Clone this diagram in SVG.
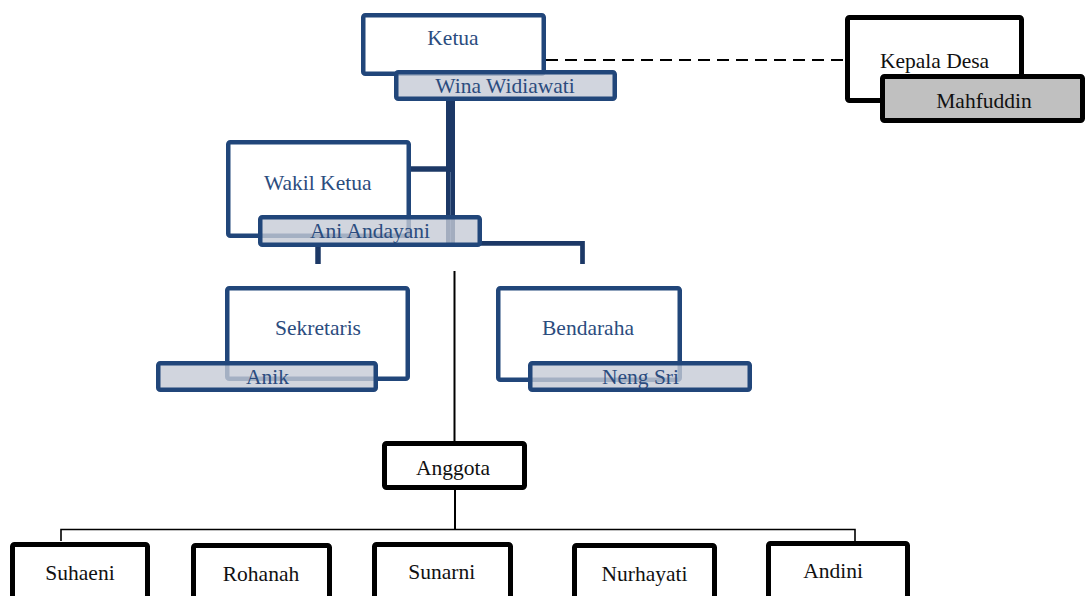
<svg xmlns="http://www.w3.org/2000/svg" width="1085" height="596" viewBox="0 0 1085 596">
<style>
  text { font-family: "Liberation Serif", "Times New Roman", serif; font-size: 21.5px; text-anchor: middle; }
  .bt { fill: #2b4c7e; }
  .kt { fill: #111111; }
  .title { fill: #ffffff; stroke: #21467a; stroke-width: 4.5; }
  .name { fill: #c6cad6; fill-opacity: 0.8; stroke: #21467a; stroke-width: 4.5; }
  .kbox { fill: #ffffff; stroke: #000000; stroke-width: 5; }
  .kname { fill: #c0c0c0; stroke: #000000; stroke-width: 5; }
  .nav { fill: none; stroke: #1c3866; stroke-linejoin: miter; }
  .thin { fill: none; stroke: #000000; }
</style>
<defs>
  <clipPath id="clipAnggota"><rect x="387" y="446" width="135" height="39"/></clipPath>
</defs>

<g id="connectors">
  <path d="M546 60 H845" fill="none" stroke="#000" stroke-width="2" stroke-dasharray="12 7"/>
  <rect x="446" y="100" width="9" height="143" fill="#1c3866"/>
  <line x1="450.5" y1="172" x2="450.5" y2="243" stroke="#5a7399" stroke-width="0.8"/>
  <path class="nav" d="M410 169 H447" stroke-width="5.5"/>
  <path class="nav" d="M480 243.3 H582.5 V264" stroke-width="4.7"/>
  <path class="nav" d="M318 246 V264" stroke-width="5.5"/>
  <path class="thin" d="M454.5 271 V441" stroke-width="2"/>
  <path class="thin" d="M455 490 V529.5" stroke-width="2"/>
  <path class="thin" d="M61 541 V529.5 H855 V541" stroke-width="1.6"/>
</g>

<g id="ketua">
  <rect class="title" x="363.25" y="15.25" width="180.5" height="58.5" rx="2"/>
  <text class="bt" x="453" y="45">Ketua</text>
</g>
<g id="ketua-name">
  <rect class="name" x="396.25" y="72.25" width="218.5" height="26.5" rx="2"/>
  <text class="bt" x="505" y="93">Wina Widiawati</text>
</g>

<g id="kepala-desa">
  <rect class="kbox" x="847.5" y="17.5" width="174" height="83" rx="2"/>
  <text class="kt" x="934.5" y="68">Kepala Desa</text>
</g>
<g id="kepala-desa-name">
  <rect class="kname" x="882.5" y="76.5" width="200" height="44" rx="2"/>
  <text class="kt" x="984" y="108">Mahfuddin</text>
</g>

<g id="wakil-ketua">
  <rect class="title" x="228.25" y="142.25" width="180.5" height="93.5" rx="2"/>
  <text class="bt" x="317.7" y="190">Wakil Ketua</text>
</g>
<g id="wakil-ketua-name">
  <rect class="name" x="260.25" y="217.25" width="219.5" height="27.5" rx="2"/>
  <text class="bt" x="370" y="237.5">Ani Andayani</text>
</g>

<g id="sekretaris">
  <rect class="title" x="227.25" y="288.25" width="180.5" height="90.5" rx="2"/>
  <text class="bt" x="318" y="335">Sekretaris</text>
</g>
<g id="sekretaris-name">
  <rect class="name" x="158.25" y="363.25" width="217.5" height="26.5" rx="2"/>
  <text class="bt" x="267.5" y="383.5">Anik</text>
</g>

<g id="bendahara">
  <rect class="title" x="498.25" y="288.25" width="181.5" height="91.5" rx="2"/>
  <text class="bt" x="588" y="335">Bendaraha</text>
</g>
<g id="bendahara-name">
  <rect class="name" x="530.25" y="363.25" width="219.5" height="26.5" rx="2"/>
  <text class="bt" x="640.5" y="383.5">Neng Sri</text>
</g>

<g id="anggota">
  <rect class="kbox" x="384.5" y="443.5" width="140" height="44" rx="2"/>
  <text class="kt" x="453" y="475" clip-path="url(#clipAnggota)">Anggota</text>
</g>

<g id="suhaeni">
  <rect class="kbox" x="12.5" y="544.5" width="135" height="80" rx="2"/>
  <text class="kt" x="80" y="579.5">Suhaeni</text>
</g>
<g id="rohanah">
  <rect class="kbox" x="193.5" y="545.5" width="136" height="80" rx="2"/>
  <text class="kt" x="261" y="580.5">Rohanah</text>
</g>
<g id="sunarni">
  <rect class="kbox" x="374.5" y="544.5" width="136" height="80" rx="2"/>
  <text class="kt" x="441.7" y="579">Sunarni</text>
</g>
<g id="nurhayati">
  <rect class="kbox" x="574.5" y="545.5" width="140" height="80" rx="2"/>
  <text class="kt" x="644.5" y="580.5">Nurhayati</text>
</g>
<g id="andini">
  <rect class="kbox" x="768.5" y="543.5" width="139" height="80" rx="2"/>
  <text class="kt" x="833" y="578">Andini</text>
</g>
</svg>
